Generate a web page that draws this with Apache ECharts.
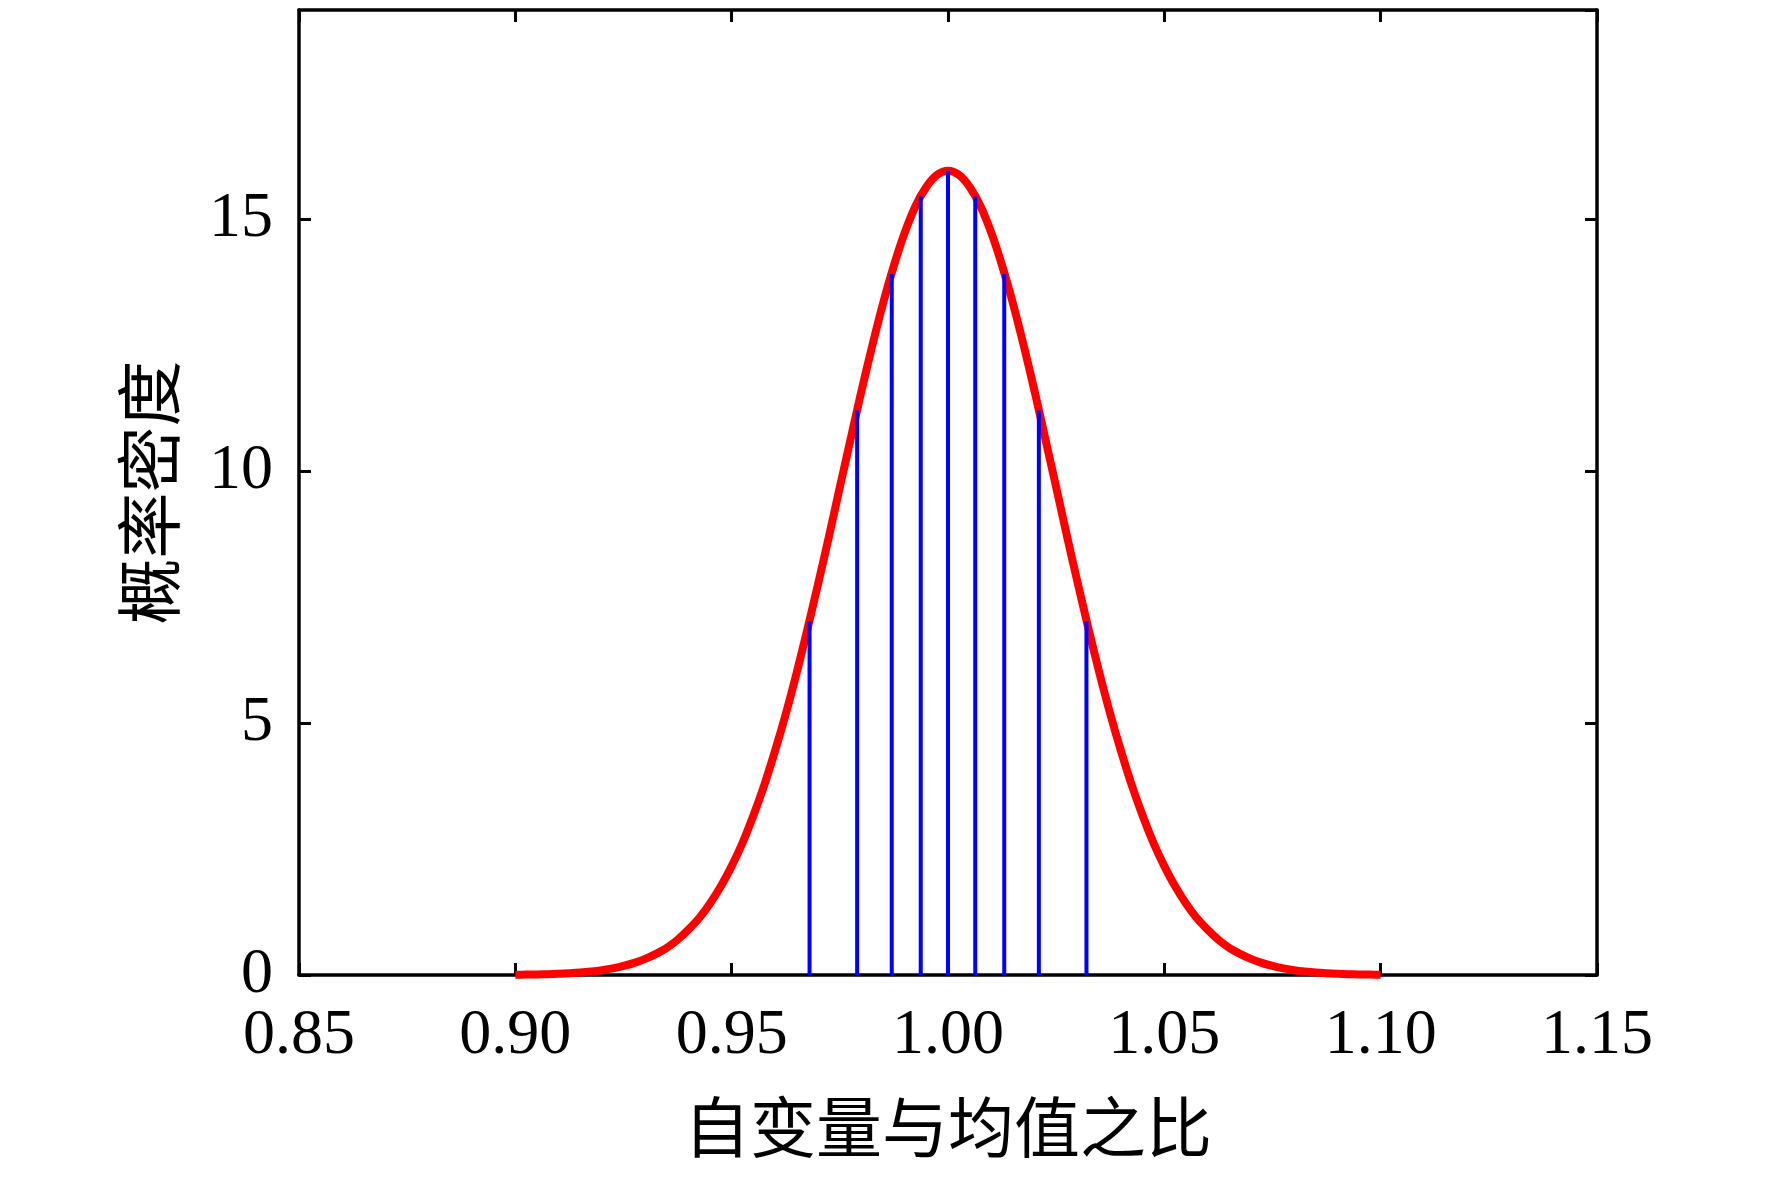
<!DOCTYPE html>
<html lang="zh">
<head>
    <meta charset="UTF-8">
    <title>概率密度</title>
    <script src="https://cdn.jsdelivr.net/npm/echarts@6/dist/echarts.min.js"></script>
    <style>
        html, body { margin: 0; padding: 0; background: #fff; }
        #main { width: 1772px; height: 1181px; }
    </style>
</head>
<body>
<div id="main"></div>
<script type="text/javascript">
    // 曲线取样点 (自变量与均值之比), 0.90 ~ 1.10 每 0.0025 一点
    var curve_x = [0.9000, 0.9025, 0.9050, 0.9075, 0.9100, 0.9125, 0.9150, 0.9175, 0.9200, 0.9225,
        0.9250, 0.9275, 0.9300, 0.9325, 0.9350, 0.9375, 0.9400, 0.9425, 0.9450, 0.9475,
        0.9500, 0.9525, 0.9550, 0.9575, 0.9600, 0.9625, 0.9650, 0.9675, 0.9700, 0.9725,
        0.9750, 0.9775, 0.9800, 0.9825, 0.9850, 0.9875, 0.9900, 0.9925, 0.9950, 0.9975,
        1.0000,
        1.0025, 1.0050, 1.0075, 1.0100, 1.0125, 1.0150, 1.0175, 1.0200, 1.0225, 1.0250,
        1.0275, 1.0300, 1.0325, 1.0350, 1.0375, 1.0400, 1.0425, 1.0450, 1.0475, 1.0500,
        1.0525, 1.0550, 1.0575, 1.0600, 1.0625, 1.0650, 1.0675, 1.0700, 1.0725, 1.0750,
        1.0775, 1.0800, 1.0825, 1.0850, 1.0875, 1.0900, 1.0925, 1.0950, 1.0975, 1.1000];
    // 概率密度
    var curve_y = [0.005, 0.008, 0.012, 0.017, 0.024, 0.035, 0.049, 0.069, 0.095, 0.13,
        0.18, 0.24, 0.32, 0.42, 0.54, 0.70, 0.90, 1.13, 1.42, 1.76,
        2.16, 2.62, 3.16, 3.76, 4.44, 5.18, 5.99, 6.86, 7.77, 8.71,
        9.68, 10.64, 11.59, 12.49, 13.33, 14.08, 14.73, 15.26, 15.64, 15.88,
        15.96,
        15.88, 15.64, 15.26, 14.73, 14.08, 13.33, 12.49, 11.59, 10.64, 9.68,
        8.71, 7.77, 6.86, 5.99, 5.18, 4.44, 3.76, 3.16, 2.62, 2.16,
        1.76, 1.42, 1.13, 0.90, 0.70, 0.54, 0.42, 0.32, 0.24, 0.18,
        0.13, 0.095, 0.069, 0.049, 0.035, 0.024, 0.017, 0.012, 0.008, 0.005];
    // 竖线位置与高度
    var stem_x = [0.968, 0.979, 0.987, 0.9937, 1.000, 1.0063, 1.013, 1.021, 1.032];
    var stem_y = [7.02, 11.20, 13.91, 15.45, 15.96, 15.45, 13.91, 11.20, 7.02];
    // 坐标轴
    var x_min = 0.85, x_max = 1.15, x_step = 0.05;
    var y_min = 0, y_max = 19.15, y_step = 5;

    var serif = "'Liberation Serif', 'Times New Roman', serif";
    var cjk = "'Noto Sans CJK SC', 'Liberation Serif', serif";

    function zip(a, b) {
        var out = [];
        for (var i = 0; i < a.length; i++) out.push([a[i], b[i]]);
        return out;
    }

    var frame = {show: true, onZero: false, lineStyle: {color: '#000', width: 3.5}};
    var tick_in = {show: true, inside: true, length: 12, lineStyle: {color: '#000', width: 3}};

    var myChart = echarts.init(document.getElementById('main'));
    var option = {
        backgroundColor: '#fff',
        animation: false,
        grid: {left: 299, right: 175, top: 10, bottom: 206},
        xAxis: [{
            type: 'value', position: 'bottom',
            min: x_min, max: x_max, interval: x_step,
            axisLine: frame, axisTick: tick_in, splitLine: {show: false},
            axisLabel: {
                margin: 29, color: '#000', fontSize: 64, fontFamily: serif,
                formatter: function (v) { return v.toFixed(2); }
            },
            name: '自变量与均值之比', nameLocation: 'middle', nameGap: 119,
            nameTextStyle: {color: '#000', fontSize: 66, fontFamily: cjk}
        }, {
            type: 'value', position: 'top',
            min: x_min, max: x_max, interval: x_step,
            axisLine: frame, axisTick: tick_in, splitLine: {show: false},
            axisLabel: {show: false}
        }],
        yAxis: [{
            type: 'value', position: 'left',
            min: y_min, max: y_max, interval: y_step,
            axisLine: frame, axisTick: tick_in, splitLine: {show: false},
            axisLabel: {
                margin: 26, color: '#000', fontSize: 64, fontFamily: serif,
                showMaxLabel: false,
                formatter: function (v) { return (Math.abs(v % 5) < 1e-6) ? String(v) : ''; }
            },
            name: '概率密度', nameLocation: 'middle', nameGap: 117,
            nameTextStyle: {color: '#000', fontSize: 66, fontFamily: cjk}
        }, {
            type: 'value', position: 'right',
            min: y_min, max: y_max, interval: y_step,
            axisLine: frame, axisTick: tick_in, splitLine: {show: false},
            axisLabel: {show: false}
        }],
        series: [{
            type: 'line',
            data: zip(curve_x, curve_y),
            smooth: 0.3,
            symbol: 'none',
            lineStyle: {color: '#ff0000', width: 8, join: 'round', cap: 'butt'},
            z: 3
        }, {
            type: 'bar',
            data: zip(stem_x, stem_y),
            barWidth: 4,
            itemStyle: {color: '#0000ff'},
            z: 4
        }]
    };
    myChart.setOption(option);
</script>
</body>
</html>
